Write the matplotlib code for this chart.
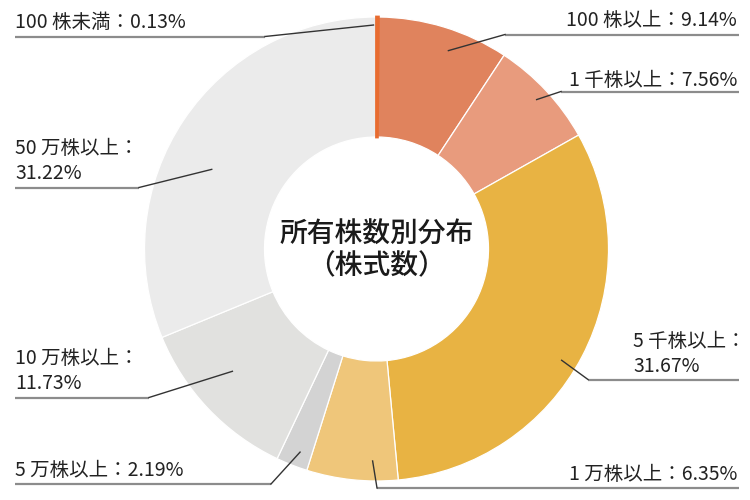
import numpy as np
import matplotlib
matplotlib.use("Agg")
import matplotlib.pyplot as plt

plt.rcParams['font.family'] = ['Noto Sans CJK JP', 'DejaVu Sans']

categories = ["100株未満", "100株以上", "1千株以上", "5千株以上",
              "1万株以上", "5万株以上", "10万株以上", "50万株以上"]
values = [0.13, 9.14, 7.56, 31.67, 6.35, 2.19, 11.73, 31.22]
label_texts = ["100 株未満：0.13%", "100 株以上：9.14%", "1 千株以上：7.56%",
               "5 千株以上：\n31.67%", "1 万株以上：6.35%", "5 万株以上：2.19%",
               "10 万株以上：\n11.73%", "50 万株以上：\n31.22%"]
colors = ["#E86C30", "#E0835D", "#E89B7D", "#E8B343",
          "#EFC67A", "#D3D3D3", "#E1E1DF", "#EBEBEB"]
center_title = "所有株数別分布\n（株式数）"

# layout (pixels, y downwards)
cx, cy = 376.5, 249.0
R_out, R_in = 232.0, 112.0
layout = [
    dict(da=-1.0, r=224, tx=15, ty=22, ha="left", uy=36.5, ux0=15, ux1=265),
    dict(da=3.0, r=211, tx=737, ty=21, ha="right", uy=34.5, ux0=505, ux1=739),
    dict(da=0.0, r=219, tx=737, ty=80, ha="right", uy=91.5, ux0=561, ux1=739),
    dict(da=3.4, r=216, tx=633, ty=354, ha="left", uy=379.5, ux0=588, ux1=739),
    dict(da=-5.0, r=212, tx=737, ty=474, ha="right", uy=488, ux0=377, ux1=739),
    dict(da=-0.8, r=217, tx=15, ty=470, ha="left", uy=484, ux0=15, ux1=271),
    dict(da=3.2, r=189, tx=15, ty=371, ha="left", uy=397.5, ux0=15, ux1=149),
    dict(da=-8.0, r=183, tx=15, ty=161, ha="left", uy=187.5, ux0=15, ux1=139),
]

fig = plt.figure(figsize=(7.5, 5), dpi=100)
ax = fig.add_axes([0, 0, 1, 1])
ax.set_xlim(0, 750)
ax.set_ylim(500, 0)
ax.set_aspect('equal')
ax.axis('off')

wedges, _ = ax.pie(values, colors=colors, startangle=-90, counterclock=True,
                   center=(cx, cy), radius=R_out,
                   wedgeprops=dict(width=R_out - R_in, edgecolor="white", linewidth=0.9))
wedges[0].set_edgecolor(colors[0])
wedges[0].set_linewidth(2.0)
wedges[0].set_zorder(wedges[0].get_zorder() + 1)
ax.set_xlim(0, 750)
ax.set_ylim(500, 0)

total = sum(values)
cum = np.cumsum([0] + values[:-1])
for i, lay in enumerate(layout):
    frac = (cum[i] + values[i] / 2) / total
    phi = np.deg2rad(frac * 360 + lay["da"])
    axp = cx + lay["r"] * np.sin(phi)
    ayp = cy - lay["r"] * np.cos(phi)
    if lay["ha"] == "left" and lay["tx"] < cx:
        ex = lay["ux1"]
    else:
        ex = lay["ux0"]
    ax.plot([lay["ux0"], lay["ux1"]], [lay["uy"], lay["uy"]], color="#8C8C8C",
            lw=1.6, solid_capstyle="butt", zorder=3)
    ax.plot([ex, axp], [lay["uy"], ayp], color="#333333", lw=1.0, zorder=4)
    ax.text(lay["tx"], lay["ty"], label_texts[i], ha=lay["ha"], va="center",
            fontsize=14, color="#222222", linespacing=1.25)

ax.text(cx, cy + 1, center_title, ha="center", va="center", fontsize=20,
        color="#1a1a1a", linespacing=1.1, fontweight="medium")

fig.savefig("out.png", dpi=100)
